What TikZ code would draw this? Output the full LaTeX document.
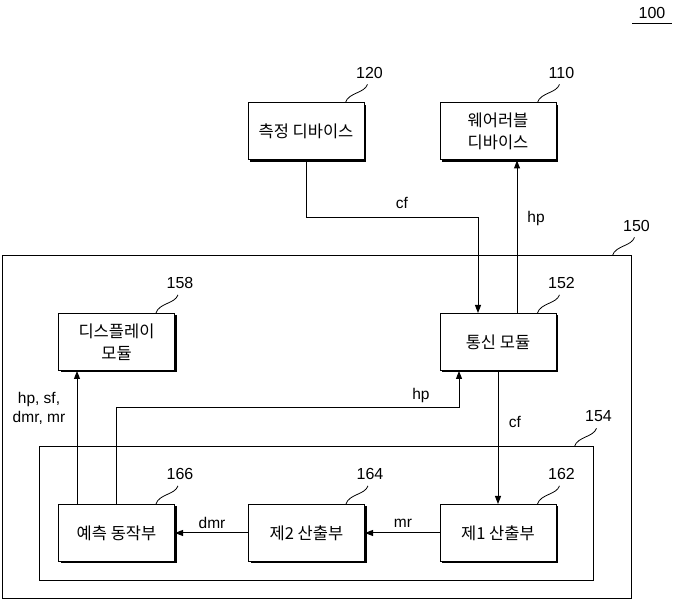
\documentclass[tikz,border=0pt]{standalone}
\usepackage{fontspec}
\setmainfont{Liberation Sans}
\newfontfamily\kr{Noto Sans CJK KR}
\usetikzlibrary{shadows,arrows.meta,calc}
\newcommand\refmark[2]{%
  \node[num] (l#1) at ($(#1.north east)+(5,-30)$) {#2};
  \draw[lead] ([xshift=-19pt]#1.north east) .. controls +(3,-10) and +(-3,9) .. ([xshift=-2pt,yshift=-6pt]l#1.south);
}
\begin{document}
\begin{tikzpicture}[x=1pt,y=-1pt,
  blk/.style={draw, line width=1pt, fill=white, minimum width=116pt, minimum height=57pt, inner sep=0pt,
    font=\kr\fontsize{16.5}{22}\selectfont, align=center,
    drop shadow={shadow xshift=2pt, shadow yshift=-2pt, fill=black, opacity=1}},
  grp/.style={draw, line width=1pt, inner sep=0pt},
  num/.style={font=\fontsize{16}{18}\selectfont, inner sep=0pt},
  lbl/.style={font=\fontsize{15.5}{19}\selectfont, inner sep=0pt, align=center},
  lead/.style={line width=0.8pt},
  sig/.style={line width=1pt, -{Triangle[length=8pt,width=6pt]}},
]
\useasboundingbox (0,0) rectangle (673,601);

% groups
\node[grp, minimum width=629pt, minimum height=343pt] (b150) at (316.5,427.5) {};
\node[grp, minimum width=554pt, minimum height=134pt] (b154) at (316,514) {};

% blocks
\node[blk] (b120) at (306,131.5) {측정 디바이스};
\node[blk] (b110) at (498,131.5) {웨어러블\\디바이스};
\node[blk] (b158) at (116.5,342) {디스플레이\\모듈};
\node[blk] (b152) at (498,342) {통신 모듈};
\node[blk] (b166) at (116.5,533) {예측 동작부};
\node[blk] (b164) at (306.5,533) {제2 산출부};
\node[blk] (b162) at (498,533) {제1 산출부};

% reference numerals
\node[num] (l100) at (652,13) {100};
\draw[line width=1.2pt] ([xshift=-6pt,yshift=-5pt]l100.south west) -- ([xshift=6pt,yshift=-5pt]l100.south east);
\refmark{b120}{120}
\refmark{b110}{110}
\refmark{b150}{150}
\refmark{b158}{158}
\refmark{b152}{152}
\refmark{b154}{154}
\refmark{b166}{166}
\refmark{b164}{164}
\refmark{b162}{162}

% signals
\draw[sig] (b120.south) -- ++(0,57) -| ([xshift=-20pt]b152.north);
\node[lbl] (tcf1) at (402,203) {cf};
\draw[sig] ([xshift=19pt]b152.north) -- ([xshift=19pt]b110.south);
\node[lbl] (thp1) at (536,218) {hp};
\draw[sig] (b152.south) -- (b162.north);
\node[lbl] (tcf2) at (515,422) {cf};
\draw[sig] (b166.north) -- ++(0,-96) -| ([xshift=-39pt]b152.south);
\node[lbl] (thp2) at (421,395) {hp};
\draw[sig] ([xshift=-39.5pt]b166.north) -- ([xshift=-39.5pt]b158.south);
\node[lbl] (tall) at (39,408) {hp, sf,\\dmr, mr};
\draw[sig] (b162.west) -- (b164.east);
\node[lbl] (tmr) at (403,523) {mr};
\draw[sig] (b164.west) -- (b166.east);
\node[lbl] (tdmr) at (212,523) {dmr};
\end{tikzpicture}
\end{document}
